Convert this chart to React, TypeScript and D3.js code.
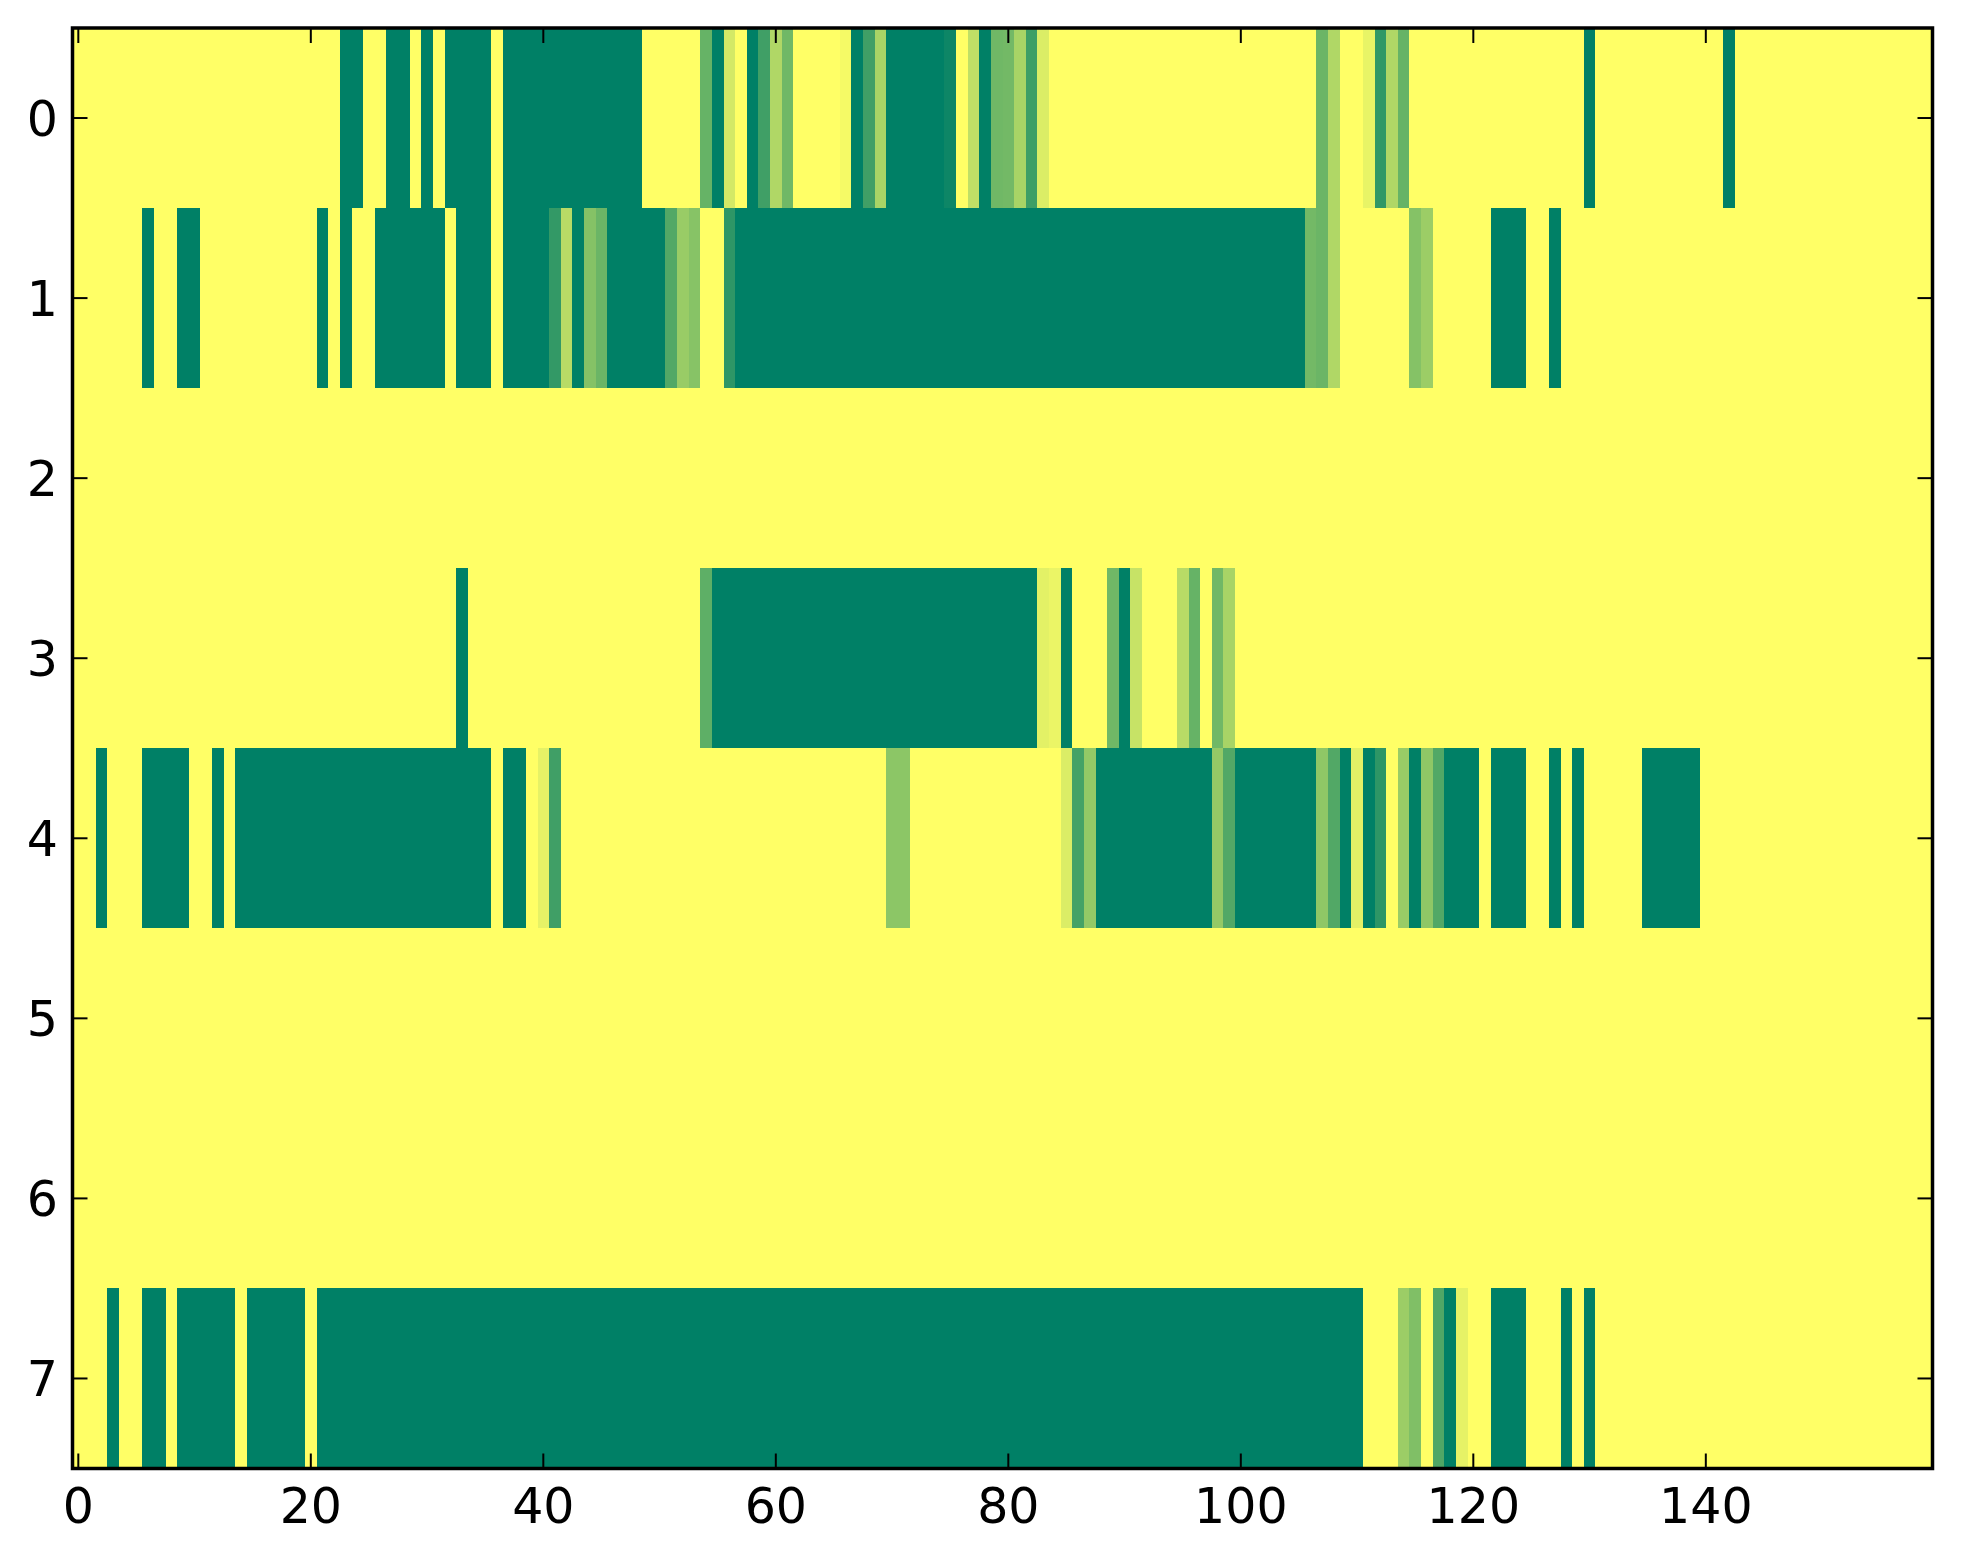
import React from 'react';
import * as d3 from 'd3';

// heatmap values, one array per row (160 columns each)
const row0 = [
  1, 1, 1, 1, 1, 1, 1, 1, 1, 1, 1, 1, 1, 1, 1, 1, 1, 1, 1, 1,
  1, 1, 1, 0, 0, 1, 1, 0, 0, 1, 0, 1, 0, 0, 0, 0, 1, 0, 0, 0,
  0, 0, 0, 0, 0, 0, 0, 0, 0, 1, 1, 1, 1, 1, 0.4, 0, 0.83, 1, 0, 0.25,
  0.69, 0.44, 1, 1, 1, 1, 0.96, 0, 0.25, 0.66, 0, 0, 0, 0, 0, 0.05, 1, 0.75, 0, 0.44,
  0.45, 0.66, 0.24, 0.86, 1, 1, 1, 1, 1, 1, 1, 1, 1, 1, 1, 1, 1, 1, 1, 1,
  1, 1, 1, 1, 1, 1, 1, 0.42, 0.69, 1, 1, 0.91, 0.19, 0.69, 0.4, 1, 1, 1, 1, 1,
  1, 1, 1, 1, 1, 1, 1, 1, 1, 1, 0, 1, 1, 1, 1, 1, 1, 1, 1, 1,
  1, 1, 0, 1, 1, 1, 1, 1, 1, 1, 1, 1, 1, 1, 1, 1, 1, 1, 1, 1,
];
const row1 = [
  1, 1, 1, 1, 1, 1, 0, 1, 1, 0, 0, 1, 1, 1, 1, 1, 1, 1, 1, 1,
  1, 0, 1, 0, 1, 1, 0, 0, 0, 0, 0, 0, 1, 0, 0, 0, 1, 0, 0, 0,
  0, 0.2, 0.72, 0, 0.52, 0.42, 0, 0, 0, 0, 0, 0.32, 0.6, 0.53, 1, 1, 0.18, 0, 0, 0,
  0, 0, 0, 0, 0, 0, 0, 0, 0, 0, 0, 0, 0, 0, 0, 0, 0, 0, 0, 0,
  0, 0, 0, 0, 0, 0, 0, 0, 0, 0, 0, 0, 0, 0, 0, 0, 0, 0, 0, 0,
  0, 0, 0, 0, 0, 0, 0.45, 0.42, 0.69, 1, 1, 1, 1, 1, 1, 0.52, 0.61, 1, 1, 1,
  1, 1, 0, 0, 0, 1, 1, 0, 1, 1, 1, 1, 1, 1, 1, 1, 1, 1, 1, 1,
  1, 1, 1, 1, 1, 1, 1, 1, 1, 1, 1, 1, 1, 1, 1, 1, 1, 1, 1, 1,
];
const row2 = [
  1, 1, 1, 1, 1, 1, 1, 1, 1, 1, 1, 1, 1, 1, 1, 1, 1, 1, 1, 1,
  1, 1, 1, 1, 1, 1, 1, 1, 1, 1, 1, 1, 1, 1, 1, 1, 1, 1, 1, 1,
  1, 1, 1, 1, 1, 1, 1, 1, 1, 1, 1, 1, 1, 1, 1, 1, 1, 1, 1, 1,
  1, 1, 1, 1, 1, 1, 1, 1, 1, 1, 1, 1, 1, 1, 1, 1, 1, 1, 1, 1,
  1, 1, 1, 1, 1, 1, 1, 1, 1, 1, 1, 1, 1, 1, 1, 1, 1, 1, 1, 1,
  1, 1, 1, 1, 1, 1, 1, 1, 1, 1, 1, 1, 1, 1, 1, 1, 1, 1, 1, 1,
  1, 1, 1, 1, 1, 1, 1, 1, 1, 1, 1, 1, 1, 1, 1, 1, 1, 1, 1, 1,
  1, 1, 1, 1, 1, 1, 1, 1, 1, 1, 1, 1, 1, 1, 1, 1, 1, 1, 1, 1,
];
const row3 = [
  1, 1, 1, 1, 1, 1, 1, 1, 1, 1, 1, 1, 1, 1, 1, 1, 1, 1, 1, 1,
  1, 1, 1, 1, 1, 1, 1, 1, 1, 1, 1, 1, 1, 0, 1, 1, 1, 1, 1, 1,
  1, 1, 1, 1, 1, 1, 1, 1, 1, 1, 1, 1, 1, 1, 0.37, 0, 0, 0, 0, 0,
  0, 0, 0, 0, 0, 0, 0, 0, 0, 0, 0, 0, 0, 0, 0, 0, 0, 0, 0, 0,
  0, 0, 0, 0.89, 0.92, 0, 1, 1, 1, 0.44, 0, 0.78, 1, 1, 1, 0.72, 0.4, 1, 0.44, 0.66,
  1, 1, 1, 1, 1, 1, 1, 1, 1, 1, 1, 1, 1, 1, 1, 1, 1, 1, 1, 1,
  1, 1, 1, 1, 1, 1, 1, 1, 1, 1, 1, 1, 1, 1, 1, 1, 1, 1, 1, 1,
  1, 1, 1, 1, 1, 1, 1, 1, 1, 1, 1, 1, 1, 1, 1, 1, 1, 1, 1, 1,
];
const row4 = [
  1, 1, 0, 1, 1, 1, 0, 0, 0, 0, 1, 1, 0, 1, 0, 0, 0, 0, 0, 0,
  0, 0, 0, 0, 0, 0, 0, 0, 0, 0, 0, 0, 0, 0, 0, 0, 1, 0, 0, 1,
  0.9, 0.25, 1, 1, 1, 1, 1, 1, 1, 1, 1, 1, 1, 1, 1, 1, 1, 1, 1, 1,
  1, 1, 1, 1, 1, 1, 1, 1, 1, 1, 0.55, 0.55, 1, 1, 1, 1, 1, 1, 1, 1,
  1, 1, 1, 1, 1, 0.86, 0.27, 0.58, 0, 0, 0, 0, 0, 0, 0, 0, 0, 0, 0.58, 0.32,
  0, 0, 0, 0, 0, 0, 0, 0.56, 0.32, 0, 0.89, 0, 0.18, 1, 0.6, 0, 0.56, 0.32, 0, 0,
  0, 1, 0, 0, 0, 1, 1, 0, 1, 0, 1, 1, 1, 1, 1, 0, 0, 0, 0, 0,
  1, 1, 1, 1, 1, 1, 1, 1, 1, 1, 1, 1, 1, 1, 1, 1, 1, 1, 1, 1,
];
const row5 = [
  1, 1, 1, 1, 1, 1, 1, 1, 1, 1, 1, 1, 1, 1, 1, 1, 1, 1, 1, 1,
  1, 1, 1, 1, 1, 1, 1, 1, 1, 1, 1, 1, 1, 1, 1, 1, 1, 1, 1, 1,
  1, 1, 1, 1, 1, 1, 1, 1, 1, 1, 1, 1, 1, 1, 1, 1, 1, 1, 1, 1,
  1, 1, 1, 1, 1, 1, 1, 1, 1, 1, 1, 1, 1, 1, 1, 1, 1, 1, 1, 1,
  1, 1, 1, 1, 1, 1, 1, 1, 1, 1, 1, 1, 1, 1, 1, 1, 1, 1, 1, 1,
  1, 1, 1, 1, 1, 1, 1, 1, 1, 1, 1, 1, 1, 1, 1, 1, 1, 1, 1, 1,
  1, 1, 1, 1, 1, 1, 1, 1, 1, 1, 1, 1, 1, 1, 1, 1, 1, 1, 1, 1,
  1, 1, 1, 1, 1, 1, 1, 1, 1, 1, 1, 1, 1, 1, 1, 1, 1, 1, 1, 1,
];
const row6 = [
  1, 1, 1, 1, 1, 1, 1, 1, 1, 1, 1, 1, 1, 1, 1, 1, 1, 1, 1, 1,
  1, 1, 1, 1, 1, 1, 1, 1, 1, 1, 1, 1, 1, 1, 1, 1, 1, 1, 1, 1,
  1, 1, 1, 1, 1, 1, 1, 1, 1, 1, 1, 1, 1, 1, 1, 1, 1, 1, 1, 1,
  1, 1, 1, 1, 1, 1, 1, 1, 1, 1, 1, 1, 1, 1, 1, 1, 1, 1, 1, 1,
  1, 1, 1, 1, 1, 1, 1, 1, 1, 1, 1, 1, 1, 1, 1, 1, 1, 1, 1, 1,
  1, 1, 1, 1, 1, 1, 1, 1, 1, 1, 1, 1, 1, 1, 1, 1, 1, 1, 1, 1,
  1, 1, 1, 1, 1, 1, 1, 1, 1, 1, 1, 1, 1, 1, 1, 1, 1, 1, 1, 1,
  1, 1, 1, 1, 1, 1, 1, 1, 1, 1, 1, 1, 1, 1, 1, 1, 1, 1, 1, 1,
];
const row7 = [
  1, 1, 1, 0, 1, 1, 0, 0, 1, 0, 0, 0, 0, 0, 1, 0, 0, 0, 0, 0,
  1, 0, 0, 0, 0, 0, 0, 0, 0, 0, 0, 0, 0, 0, 0, 0, 0, 0, 0, 0,
  0, 0, 0, 0, 0, 0, 0, 0, 0, 0, 0, 0, 0, 0, 0, 0, 0, 0, 0, 0,
  0, 0, 0, 0, 0, 0, 0, 0, 0, 0, 0, 0, 0, 0, 0, 0, 0, 0, 0, 0,
  0, 0, 0, 0, 0, 0, 0, 0, 0, 0, 0, 0, 0, 0, 0, 0, 0, 0, 0, 0,
  0, 0, 0, 0, 0, 0, 0, 0, 0, 0, 0, 1, 1, 1, 0.61, 0.5, 1, 0.31, 0, 0.9,
  1, 1, 0, 0, 0, 1, 1, 1, 0, 1, 0, 1, 1, 1, 1, 1, 1, 1, 1, 1,
  1, 1, 1, 1, 1, 1, 1, 1, 1, 1, 1, 1, 1, 1, 1, 1, 1, 1, 1, 1,
];

const rows = [row0, row1, row2, row3, row4, row5, row6, row7];
const xTicks = [0, 20, 40, 60, 80, 100, 120, 140];
const yTicks = [0, 1, 2, 3, 4, 5, 6, 7];

const width = 1963;
const height = 1564;
const margin = { top: 28, right: 30.5, bottom: 95.5, left: 72.5 };
const tickLen = 15;
const xLabelPad = 18;
const yLabelPad = 14.5;
const fontSize = 49;
const font = '"DejaVu Sans", sans-serif';

// matplotlib "summer" colormap: green (low) -> yellow (high)
const summer = (v: number) =>
  d3.rgb(255 * v, 127.5 + 127.5 * v, 102).formatHex();

const App: React.FC = () => {
  const nCols = rows[0].length;
  const x = d3
    .scaleLinear()
    .domain([-0.5, nCols - 0.5])
    .range([margin.left, width - margin.right]);
  const y = d3
    .scaleLinear()
    .domain([-0.5, rows.length - 0.5])
    .range([margin.top, height - margin.bottom]);

  const x0 = x(-0.5);
  const x1 = x(nCols - 0.5);
  const y0 = y(-0.5);
  const y1 = y(rows.length - 0.5);

  return (
    <svg
      width={width}
      height={height}
      style={{ position: 'absolute', left: 0, top: 0, background: '#fff' }}
    >
      <g shapeRendering="crispEdges">
        {rows.map((row, r) =>
          row.map((v, c) => (
            <rect
              key={`${r}-${c}`}
              x={x(c - 0.5)}
              y={y(r - 0.5)}
              width={x(c + 0.5) - x(c - 0.5) + 0.6}
              height={y(r + 0.5) - y(r - 0.5) + 0.6}
              fill={summer(v)}
            />
          ))
        )}
      </g>

      {/* ticks, drawn inward on all four sides */}
      <g stroke="#000" strokeWidth={2}>
        {xTicks.map(t => (
          <g key={`xt${t}`}>
            <line x1={x(t)} x2={x(t)} y1={y1} y2={y1 - tickLen} />
            <line x1={x(t)} x2={x(t)} y1={y0} y2={y0 + tickLen} />
          </g>
        ))}
        {yTicks.map(t => (
          <g key={`yt${t}`}>
            <line x1={x0} x2={x0 + tickLen} y1={y(t)} y2={y(t)} />
            <line x1={x1} x2={x1 - tickLen} y1={y(t)} y2={y(t)} />
          </g>
        ))}
      </g>

      <rect
        x={x0}
        y={y0}
        width={x1 - x0}
        height={y1 - y0}
        fill="none"
        stroke="#000"
        strokeWidth={3.5}
      />

      <g fontFamily={font} fontSize={fontSize} fill="#000">
        {xTicks.map(t => (
          <text
            key={`xl${t}`}
            x={x(t)}
            y={y1 + xLabelPad + fontSize * 0.74}
            textAnchor="middle"
          >
            {t}
          </text>
        ))}
        {yTicks.map(t => (
          <text
            key={`yl${t}`}
            x={x0 - yLabelPad}
            y={y(t) + fontSize * 0.365}
            textAnchor="end"
          >
            {t}
          </text>
        ))}
      </g>
    </svg>
  );
};

export default App;
